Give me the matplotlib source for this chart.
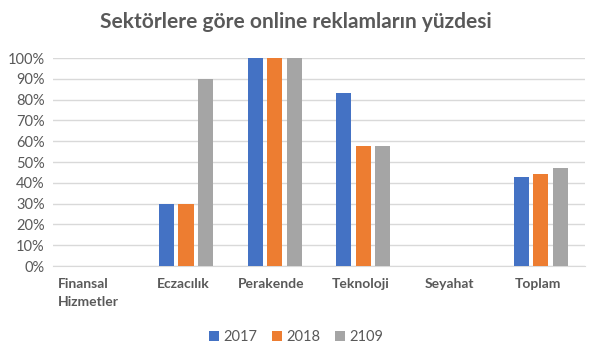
import matplotlib
matplotlib.use("Agg")
import matplotlib.pyplot as plt
import matplotlib.transforms as mtransforms
import numpy as np

categories = ["Finansal\nHizmetler", "Eczacılık", "Perakende", "Teknoloji", "Seyahat", "Toplam"]
series_names = ["2017", "2018", "2109"]
v2017 = [0, 30, 100, 83.3, 0, 42.9]
v2018 = [0, 30, 100, 57.7, 0, 44.4]
v2109 = [0, 90, 100, 57.7, 0, 47.3]
yticks = [0, 10, 20, 30, 40, 50, 60, 70, 80, 90, 100]
colors = ["#4472C4", "#ED7D31", "#A5A5A5"]

plt.rcParams['font.family'] = ['Lato', 'DejaVu Sans']
fig = plt.figure(figsize=(5.92, 3.55), dpi=100)
ax = fig.add_axes([53/592, 1 - 266/355, 532/592, 208/355])

x = np.arange(len(categories))
w = 0.17
step = 0.22
for i, (vals, name) in enumerate(zip([v2017, v2018, v2109], series_names)):
    ax.bar(x + (i - 1) * step, vals, width=w, color=colors[i], label=name, zorder=3)

ax.set_xlim(-0.5, len(categories) - 0.5)
ax.set_ylim(0, 100)
ax.set_yticks(yticks)
ax.set_yticklabels([f"{t}%" for t in yticks], color="#595959", fontsize=10.5)
ax.yaxis.grid(True, color="#D9D9D9", linewidth=1, zorder=0)
ax.tick_params(axis='y', length=0, pad=6)
ax.set_xticks(x)
ax.set_xticklabels(categories, fontsize=10, fontweight='bold', color="#595959",
                   multialignment='left', linespacing=1.5)
ax.tick_params(axis='x', length=0, pad=9)
labs = ax.get_xticklabels()
shift = mtransforms.ScaledTranslation(-9/100, 0, fig.dpi_scale_trans)
labs[0].set_transform(labs[0].get_transform() + shift)
shift2 = mtransforms.ScaledTranslation(-3/100, 0, fig.dpi_scale_trans)
for lab in labs[1:]:
    lab.set_transform(lab.get_transform() + shift2)
for s in ["top", "right", "left"]:
    ax.spines[s].set_visible(False)
ax.spines["bottom"].set_color("#D9D9D9")

fig.text(0.5, 1 - 22/355, "Sektörlere göre online reklamların yüzdesi", ha='center', va='center',
         fontsize=15, fontweight='bold', color="#595959")

leg = fig.legend(loc='center', bbox_to_anchor=(0.5, 1 - 337/355), ncol=3, frameon=False,
                 fontsize=10.5, handlelength=0.7, handleheight=0.7, handletextpad=0.3, columnspacing=1.0)
for t in leg.get_texts():
    t.set_color("#595959")

fig.savefig("out.png", dpi=100)
